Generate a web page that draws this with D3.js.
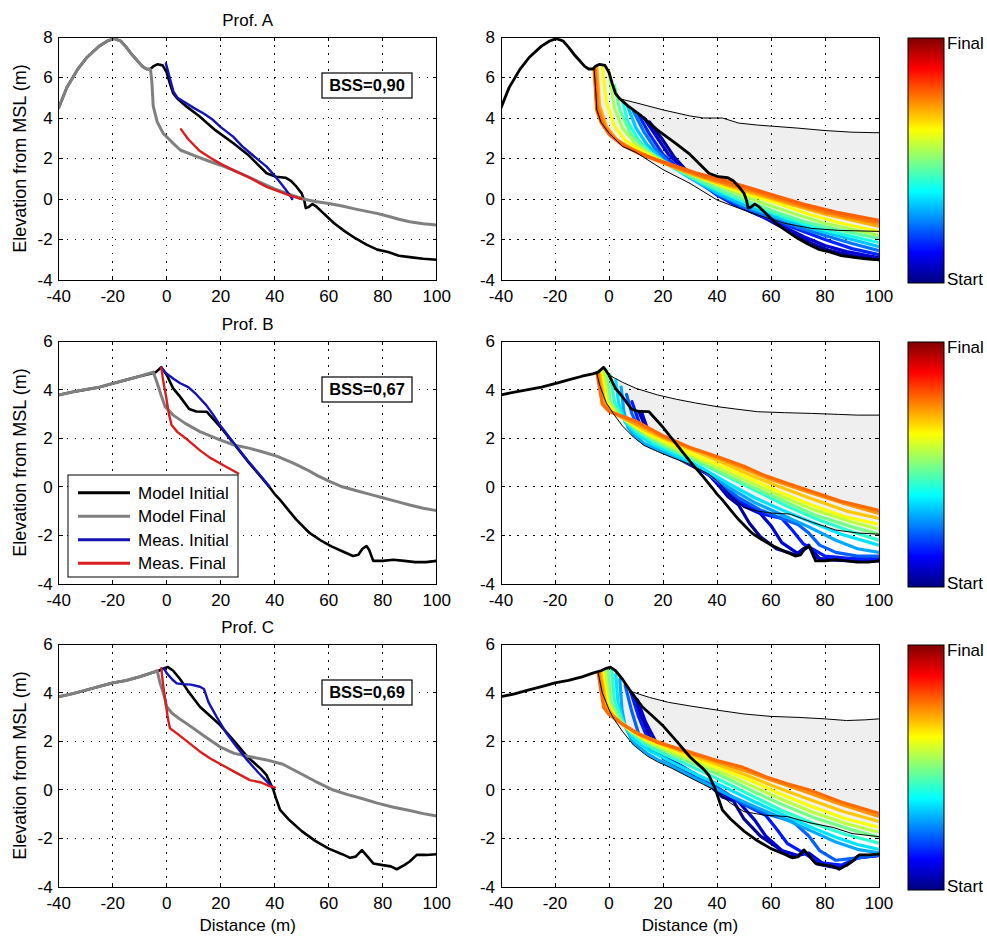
<!DOCTYPE html>
<html>
<head>
<meta charset="utf-8">
<script src="https://cdn.jsdelivr.net/npm/d3@7"></script>
<style>
  body { margin: 0; background: #fff; }
  svg { display: block; }
  text { font-family: Arial, "Liberation Sans", Helvetica, sans-serif; fill: #000; }
</style>
</head>
<body>
<svg id="fig" width="987" height="936"></svg>
<script>
// ---------- axes ----------
const xTicks = [-40, -20, 0, 20, 40, 60, 80, 100];
const yTicksA = [-4, -2, 0, 2, 4, 6, 8];
const yTicksBC = [-4, -2, 0, 2, 4, 6];
const profileTitles = ["Prof. A", "Prof. B", "Prof. C"];
const bssLabels = ["BSS=0,90", "BSS=0,67", "BSS=0,69"];
const legendLabels = ["Model Initial", "Model Final", "Meas. Initial", "Meas. Final"];
const colorbarLabels = ["Final", "Start"];

// ---------- profile A ----------
const modelInitialA = [[-40,4.5],[-37,5.5],[-33,6.4],[-29.5,7.0],[-25,7.55],[-22,7.8],[-19.5,7.92],[-17,7.8],[-15,7.5],[-13,7.15],[-11,6.85],[-9,6.55],[-7.5,6.42],[-6,6.42],[-5,6.55],[-3.5,6.65],[-1.5,6.6],[0,6.25],[1.2,5.7],[2.4,5.22],[4,4.95],[7,4.6],[12,4.1],[18,3.4],[24.7,2.75],[30,2.2],[37,1.27],[40.5,1.1],[44,1.05],[46,0.9],[48,0.62],[50,0.28],[51,-0.1],[51.5,-0.45],[52.5,-0.4],[54,-0.25],[55.5,-0.38],[58,-0.7],[62,-1.2],[66,-1.6],[70,-1.95],[74,-2.25],[78,-2.5],[82,-2.62],[86,-2.8],[90,-2.87],[95,-2.95],[100,-3.0]];
const modelFinalA = [[-40,4.5],[-37,5.5],[-33,6.4],[-29.5,7.0],[-25,7.55],[-22,7.8],[-19.5,7.92],[-17,7.8],[-15,7.5],[-13,7.15],[-11,6.85],[-9,6.55],[-7.5,6.42],[-6,6.4],[-5.5,5.8],[-5,4.6],[-3.5,3.8],[-1.3,3.24],[2,2.8],[5,2.42],[10,2.15],[15,1.9],[19.7,1.68],[25,1.4],[30,1.1],[35,0.8],[40,0.5],[45,0.25],[50.6,0.0],[55,-0.12],[60,-0.22],[65,-0.35],[70,-0.5],[77.8,-0.71],[82,-0.85],[86,-1.0],[90,-1.12],[95,-1.22],[100,-1.28]];
const measInitialA = [[-0.3,6.7],[0.5,6.3],[1.5,5.8],[2.5,5.3],[4,5.0],[7,4.75],[10,4.5],[14,4.2],[17.2,3.9],[20,3.55],[24.6,3.08],[28,2.6],[32,2.15],[37,1.6],[40,1.15],[43,0.65],[45,0.3],[46.5,0.0]];
const measFinalA = [[5.3,3.44],[8,2.95],[12,2.4],[16,2.05],[19.7,1.76],[25,1.4],[30,1.1],[37,0.6],[42,0.35],[46,0.15],[50,0.0]];
const envUpperA = [[4,4.95],[10,4.75],[20,4.4],[30,4.1],[35,4.0],[42,4.0],[48,3.75],[55,3.65],[60,3.6],[70,3.5],[80,3.38],[90,3.3],[100,3.27]];
const envLowerA = [[-5.5,6.4],[-5,5.5],[-4.5,4.4],[-3,3.8],[0,3.25],[5,2.6],[10,2.3],[20,1.45],[30,0.77],[40,-0.05],[50,-0.55],[57,-0.87],[65,-1.2],[75,-1.45],[85,-1.55],[100,-1.6]];
const stepLevelsA = [0.02, 0.08, 0.16, 0.24, 0.32, 0.4, 0.47, 0.54, 0.62, 0.7, 0.73, 0.76, 0.78];
const stepProfilesA = [
  [[15,3.8],[20,2.9],[24,2.1],[28,1.5],[34,0.9],[40,0.3],[46,-0.2],[52,-0.6],[58,-0.95],[64,-1.4],[70,-1.85],[76,-2.25],[82,-2.55],[90,-2.8],[100,-3.0]],
  [[13,4.0],[18,3.0],[22,2.2],[27,1.55],[33,0.95],[40,0.2],[46,-0.25],[52,-0.6],[60,-1.05],[66,-1.45],[72,-1.85],[80,-2.3],[88,-2.6],[100,-2.9]],
  [[11,4.15],[15,3.2],[20,2.2],[25,1.6],[32,0.95],[40,0.2],[48,-0.35],[56,-0.8],[64,-1.2],[72,-1.6],[80,-2.0],[90,-2.45],[100,-2.75]],
  [[9,4.35],[13,3.3],[17,2.5],[23,1.7],[30,1.05],[40,0.25],[50,-0.4],[60,-0.95],[70,-1.4],[80,-1.8],[90,-2.2],[100,-2.55]],
  [[7,4.55],[10,3.5],[14,2.7],[20,1.9],[28,1.2],[40,0.3],[50,-0.3],[60,-0.8],[70,-1.25],[80,-1.65],[90,-2.0],[100,-2.35]],
  [[5,4.85],[7,3.8],[11,2.9],[17,2.1],[25,1.45],[35,0.75],[45,0.15],[55,-0.4],[65,-0.9],[75,-1.35],[85,-1.7],[100,-2.15]],
  [[2,5.6],[4,4.4],[8,3.2],[14,2.4],[22,1.7],[32,1.0],[42,0.4],[52,-0.15],[62,-0.65],[72,-1.1],[84,-1.5],[100,-1.95]],
  [[0,6.3],[2,4.5],[5,3.5],[10,2.7],[18,2.0],[28,1.35],[38,0.8],[48,0.25],[58,-0.25],[68,-0.7],[80,-1.2],[100,-1.8]],
  [[-2.5,6.6],[-1,4.8],[2,3.6],[6,2.9],[13,2.3],[22,1.7],[32,1.15],[42,0.65],[52,0.2],[62,-0.2],[74,-0.75],[86,-1.2],[100,-1.6]],
  [[-4.5,6.5],[-3.5,4.6],[-1,3.6],[3,2.9],[9,2.45],[18,1.9],[28,1.35],[38,0.9],[48,0.5],[58,0.1],[68,-0.3],[80,-0.75],[90,-1.05],[100,-1.35]],
  [[-5,6.45],[-4,4.55],[-1.5,3.6],[2,3.0],[8,2.5],[16,2.0],[26,1.5],[36,1.05],[46,0.65],[56,0.25],[66,-0.15],[78,-0.6],[90,-0.95],[100,-1.25]],
  [[-5.2,6.4],[-4.3,4.5],[-2,3.6],[1,3.1],[6,2.6],[14,2.1],[24,1.6],[34,1.15],[44,0.75],[54,0.4],[64,0.0],[74,-0.4],[86,-0.8],[100,-1.15]],
  [[-5.5,6.4],[-4.6,4.4],[-3,3.8],[0,3.2],[5,2.65],[12,2.2],[22,1.75],[32,1.3],[42,0.95],[52,0.55],[62,0.15],[72,-0.25],[84,-0.65],[100,-1.05]]
];

// ---------- profile B ----------
const modelInitialB = [[-40,3.78],[-35,3.9],[-30,4.0],[-25,4.1],[-20,4.25],[-15,4.4],[-10,4.55],[-6,4.65],[-4,4.72],[-2,4.92],[0,4.6],[2.4,4.05],[5,3.7],[8.3,3.2],[11,3.1],[14.8,3.09],[20,2.45],[25,1.75],[30,1.05],[35,0.4],[38.3,-0.05],[40,-0.3],[42,-0.54],[45,-0.95],[48,-1.35],[53,-1.91],[57,-2.2],[61,-2.45],[65,-2.65],[69,-2.85],[71,-2.8],[72.5,-2.55],[74,-2.44],[75,-2.6],[76.5,-3.05],[80,-3.05],[84,-3.0],[88,-3.05],[92,-3.1],[96,-3.1],[100,-3.05]];
const modelFinalB = [[-40,3.78],[-35,3.9],[-30,4.0],[-25,4.1],[-20,4.25],[-15,4.4],[-10,4.55],[-5,4.72],[-3.7,4.33],[-2,3.75],[-0.6,3.3],[2.4,2.95],[7,2.6],[12.3,2.27],[19.7,1.93],[25,1.72],[30.8,1.58],[36,1.42],[41,1.25],[46.9,0.97],[52,0.7],[56,0.45],[60.5,0.21],[65,0.0],[70,-0.15],[75,-0.3],[80,-0.45],[85,-0.6],[90,-0.75],[95,-0.88],[100,-0.98]];
const measInitialB = [[-2,4.9],[0,4.65],[2.5,4.45],[5,4.26],[8,4.1],[11,3.8],[14.7,3.35],[17,3.0],[20,2.5],[25,1.78],[30,1.08],[35,0.42],[38,0.02]];
const measFinalB = [[-2,4.9],[-1.2,4.3],[-0.2,3.7],[0.8,3.0],[1.8,2.54],[4,2.25],[7,2.0],[12.3,1.5],[16,1.2],[20,0.95],[24,0.7],[26.5,0.55]];
const envUpperB = [[0,4.6],[5,4.3],[10,4.05],[18,3.78],[25,3.6],[32,3.45],[40,3.3],[47,3.2],[55,3.09],[65,3.05],[75,3.02],[85,2.98],[92,2.95],[100,2.95]];
const envLowerB = [[-4.6,4.7],[-3.5,4.2],[-1,3.45],[2,2.95],[5,2.5],[9,2.05],[13,1.7],[18,1.45],[23,1.22],[30,0.92],[37,0.52],[40,0.25],[45,-0.35],[50,-0.85],[55,-1.0],[60,-1.08],[67,-1.12],[75,-1.45],[84,-1.78],[92,-1.9],[100,-1.95]];
const stepLevelsB = [0.02, 0.08, 0.15, 0.22, 0.29, 0.35, 0.42, 0.49, 0.56, 0.62, 0.68, 0.73, 0.77];
const stepProfilesB = [
  [[11,3.1],[13,2.6],[16,2.0],[22,1.4],[30,0.9],[37,0.5],[41,0.0],[44,-0.4],[48,-0.75],[52,-1.5],[56,-2.05],[62,-2.55],[69,-2.8],[72,-2.55],[74,-2.4],[76,-2.9],[80,-3.0],[90,-3.05],[100,-3.05]],
  [[12,3.1],[14.5,2.3],[17,1.75],[24,1.3],[32,0.85],[38,0.4],[44,-0.3],[50,-0.8],[56,-1.1],[60,-1.6],[64,-2.3],[70,-2.75],[74,-2.45],[78,-2.95],[90,-3.0],[100,-3.0]],
  [[8.5,3.5],[11,2.7],[15,1.9],[22,1.4],[30,0.95],[38,0.45],[44,-0.2],[50,-0.7],[58,-1.15],[64,-1.3],[68,-1.8],[72,-2.35],[76,-2.6],[80,-2.85],[90,-2.95],[100,-2.95]],
  [[6.5,3.8],[8.5,3.0],[12,2.2],[18,1.6],[26,1.15],[34,0.75],[40,0.25],[48,-0.45],[56,-0.95],[64,-1.3],[70,-1.55],[74,-1.9],[78,-2.4],[84,-2.7],[92,-2.85],[100,-2.85]],
  [[4.5,4.1],[5.5,3.1],[7,2.45],[9,2.15],[13,1.78],[18,1.52],[23,1.3],[30,0.98],[37,0.58],[44,0.0],[54,-0.65],[64,-1.15],[74,-1.65],[84,-2.2],[92,-2.55],[100,-2.7]],
  [[2.5,4.4],[3.5,3.5],[6,2.65],[10,2.2],[16,1.75],[24,1.35],[34,0.8],[44,0.15],[54,-0.45],[64,-0.95],[76,-1.5],[86,-1.95],[100,-2.4]],
  [[0.5,4.6],[2,3.5],[5,2.85],[10,2.3],[17,1.8],[26,1.35],[36,0.85],[46,0.3],[56,-0.25],[66,-0.8],[78,-1.38],[90,-1.85],[100,-2.2]],
  [[-1,4.8],[0.5,3.5],[4,2.95],[9,2.45],[16,1.95],[25,1.45],[35,0.95],[45,0.4],[55,-0.1],[65,-0.6],[76,-1.15],[90,-1.65],[100,-1.95]],
  [[-2,4.8],[-0.5,3.55],[3,3.0],[8,2.6],[15,2.1],[24,1.6],[34,1.1],[44,0.6],[54,0.1],[64,-0.4],[76,-0.95],[90,-1.45],[100,-1.75]],
  [[-3,4.75],[-1,3.5],[2,3.05],[7,2.7],[14,2.2],[23,1.75],[33,1.25],[43,0.8],[53,0.3],[63,-0.2],[75,-0.75],[88,-1.25],[100,-1.55]],
  [[-3.5,4.7],[-1.5,3.45],[1,3.1],[6,2.8],[13,2.35],[22,1.9],[32,1.45],[42,1.0],[52,0.5],[62,0.05],[74,-0.45],[88,-1.0],[100,-1.3]],
  [[-4,4.7],[-2,3.45],[0.5,3.1],[5,2.85],[12,2.5],[20,2.05],[30,1.6],[40,1.2],[50,0.75],[60,0.3],[72,-0.15],[86,-0.65],[100,-1.1]],
  [[-4.5,4.7],[-2.5,3.4],[0,3.1],[5,2.9],[10,2.7],[20,2.1],[30,1.62],[40,1.25],[50,0.85],[58,0.45],[66,0.15],[74,-0.15],[86,-0.6],[100,-0.97]]
];

// ---------- profile C ----------
const modelInitialC = [[-40,3.83],[-35,3.95],[-30,4.1],[-25,4.25],[-20,4.4],[-15,4.5],[-10,4.65],[-6,4.8],[-3,4.9],[-1,5.0],[0.5,5.05],[2.4,4.9],[5,4.55],[8,4.05],[12.3,3.42],[16,3.05],[19.7,2.67],[25,2.0],[30,1.35],[35,0.85],[37,0.6],[39.5,0.0],[40.5,-0.35],[42,-0.83],[45,-1.2],[50,-1.7],[55,-2.1],[60,-2.42],[65,-2.65],[67.9,-2.8],[70,-2.75],[72.3,-2.48],[74,-2.7],[76.5,-3.03],[80,-3.1],[83,-3.15],[85.2,-3.27],[88,-3.1],[90,-2.95],[92.6,-2.68],[96,-2.68],[100,-2.65]];
const modelFinalC = [[-40,3.83],[-35,3.95],[-30,4.1],[-25,4.25],[-20,4.4],[-15,4.5],[-10,4.65],[-6,4.8],[-3.5,4.9],[-2.5,4.4],[-1,3.9],[0,3.42],[2,3.15],[5,2.9],[9,2.6],[14,2.2],[19.7,1.77],[25,1.5],[30,1.38],[37,1.23],[43,1.05],[49.4,0.68],[55,0.35],[61.7,-0.01],[67,-0.2],[72,-0.35],[78,-0.55],[84,-0.72],[90,-0.85],[95,-0.98],[100,-1.08]];
const measInitialC = [[-1,5.0],[0,4.8],[2,4.55],[3.7,4.38],[6,4.35],[9,4.33],[12.3,4.24],[13.8,4.15],[15.5,3.6],[18.5,3.0],[22,2.35],[26,1.75],[30,1.2],[34,0.7],[38.3,0.2],[39,0.1]];
const measFinalC = [[-2,5.0],[-1.3,4.3],[-0.3,3.5],[0.5,2.9],[1.2,2.53],[4,2.3],[8,1.95],[12,1.6],[16,1.3],[20,1.05],[25,0.75],[30.8,0.4],[35,0.3],[38,0.15],[40,0.1]];
const envUpperC = [[8,4.05],[15,3.8],[22,3.6],[30,3.45],[40,3.28],[50,3.12],[60,3.02],[70,2.98],[80,2.92],[88,2.85],[95,2.88],[100,2.92]];
const envLowerC = [[-4,4.8],[-2.5,4.0],[0,3.3],[1.6,2.95],[5,2.4],[9,1.85],[14,1.4],[18,1.15],[23,0.9],[30,0.5],[35,0.22],[39,0.0],[45,-0.55],[50,-0.9],[58,-1.05],[66,-1.1],[74,-1.35],[83,-1.55],[90,-1.8],[100,-1.93]];
const stepLevelsC = [0.02, 0.08, 0.15, 0.22, 0.29, 0.35, 0.42, 0.49, 0.56, 0.62, 0.68, 0.73, 0.77];
const stepProfilesC = [
  [[9,3.9],[12,3.0],[15,2.2],[20,1.3],[26,0.95],[32,0.55],[38,0.1],[42,-0.3],[46,-0.45],[50,-1.2],[56,-1.9],[62,-2.35],[67,-2.75],[70,-2.75],[72,-2.5],[74,-2.7],[77,-3.05],[84,-3.2],[88,-3.1],[92,-2.75],[100,-2.7]],
  [[10.5,3.7],[13.5,2.8],[17,2.05],[22,1.3],[28,0.9],[36,0.35],[42,-0.15],[48,-0.5],[54,-1.25],[58,-1.9],[64,-2.5],[70,-2.7],[74,-2.6],[80,-3.1],[86,-3.2],[92,-2.8],[100,-2.7]],
  [[8,4.05],[11,3.0],[14,2.2],[19,1.4],[26,1.0],[34,0.5],[42,-0.05],[50,-0.6],[58,-1.05],[62,-1.6],[66,-2.2],[72,-2.6],[78,-3.0],[86,-3.1],[92,-2.8],[100,-2.7]],
  [[6,4.3],[8.5,3.2],[11,2.3],[16,1.6],[24,1.1],[32,0.65],[40,0.1],[50,-0.6],[60,-1.05],[68,-1.3],[74,-1.9],[78,-2.5],[84,-2.9],[92,-2.8],[100,-2.68]],
  [[4,4.55],[4.8,3.3],[6,2.6],[9,1.95],[14,1.5],[18,1.24],[23,0.98],[30,0.58],[36,0.25],[44,-0.2],[54,-0.7],[64,-1.15],[74,-1.65],[84,-2.15],[92,-2.45],[100,-2.6]],
  [[2.5,4.75],[3.3,3.6],[5.5,2.7],[9,2.1],[15,1.6],[23,1.15],[33,0.6],[44,0.05],[54,-0.5],[64,-1.0],[74,-1.5],[84,-1.95],[92,-2.25],[100,-2.45]],
  [[1,4.95],[2,3.7],[5,2.8],[9,2.25],[16,1.7],[24,1.28],[34,0.78],[44,0.25],[54,-0.3],[64,-0.85],[76,-1.4],[88,-1.85],[100,-2.2]],
  [[-0.5,5.0],[0.8,3.6],[4,2.9],[8,2.4],[15,1.88],[24,1.42],[34,0.95],[44,0.45],[54,-0.1],[64,-0.6],[76,-1.15],[90,-1.65],[100,-1.95]],
  [[-1.5,4.95],[0,3.6],[3,2.95],[7,2.5],[14,2.0],[23,1.55],[33,1.1],[43,0.65],[53,0.15],[63,-0.35],[75,-0.9],[88,-1.4],[100,-1.75]],
  [[-2.5,4.9],[-0.5,3.55],[2,3.0],[6,2.6],[13,2.1],[22,1.7],[32,1.25],[42,0.85],[52,0.4],[62,-0.1],[74,-0.65],[88,-1.2],[100,-1.55]],
  [[-3,4.85],[-1,3.5],[1.5,3.05],[5,2.7],[12,2.2],[21,1.8],[31,1.4],[41,1.0],[51,0.6],[61,0.15],[73,-0.35],[87,-0.9],[100,-1.3]],
  [[-3.5,4.85],[-1.5,3.45],[1,3.1],[5,2.7],[11,2.3],[20,1.9],[30,1.5],[40,1.15],[50,0.8],[60,0.4],[72,-0.05],[86,-0.6],[100,-1.1]],
  [[-4,4.8],[-2,3.4],[0,3.1],[5,2.7],[10,2.35],[18,1.95],[30,1.55],[40,1.2],[49,0.95],[58,0.54],[66,0.25],[74,0.0],[86,-0.5],[100,-0.97]]
];

// ---------- colormap (jet) ----------
const clamp01 = v => Math.max(0, Math.min(1, v));
function jet(t) {
  const r = clamp01(Math.min(4 * t - 1.5, -4 * t + 4.5));
  const g = clamp01(Math.min(4 * t - 0.5, -4 * t + 3.5));
  const b = clamp01(Math.min(4 * t + 0.5, -4 * t + 2.5));
  return d3.rgb(r * 255, g * 255, b * 255).toString();
}
const timeColor = d3.scaleSequential(jet).domain([0, 1]);

// ---------- layout ----------
const rows = [
  { title: profileTitles[0], bss: bssLabels[0], yDomain: [-4, 8], yTicks: yTicksA, top: 37, bottom: 280,
    init: modelInitialA, fin: modelFinalA, mInit: measInitialA, mFin: measFinalA,
    up: envUpperA, low: envLowerA, levels: stepLevelsA, steps: stepProfilesA },
  { title: profileTitles[1], bss: bssLabels[1], yDomain: [-4, 6], yTicks: yTicksBC, top: 341, bottom: 584,
    init: modelInitialB, fin: modelFinalB, mInit: measInitialB, mFin: measFinalB,
    up: envUpperB, low: envLowerB, levels: stepLevelsB, steps: stepProfilesB, legend: true },
  { title: profileTitles[2], bss: bssLabels[2], yDomain: [-4, 6], yTicks: yTicksBC, top: 644, bottom: 887,
    init: modelInitialC, fin: modelFinalC, mInit: measInitialC, mFin: measFinalC,
    up: envUpperC, low: envLowerC, levels: stepLevelsC, steps: stepProfilesC, xLabel: true }
];
const leftRange = [58.7, 436.7];
const rightRange = [501, 879];
const cbX = 908, cbW = 36;
const FS = 17;

const svg = d3.select("#fig");
svg.append("rect").attr("width", 987).attr("height", 936).attr("fill", "#fff");

const defs = svg.append("defs");
const grad = defs.append("linearGradient").attr("id", "jetGrad")
  .attr("x1", 0).attr("y1", 1).attr("x2", 0).attr("y2", 0);
d3.range(0, 1.0001, 0.0625).forEach(t => {
  grad.append("stop").attr("offset", t).attr("stop-color", timeColor(t));
});

function frame(g, x, y, yTicks, top, bottom) {
  const L = x.range()[0], R = x.range()[1];
  // dotted grid
  const grid = g.append("g").attr("stroke", "#000").attr("stroke-width", 1)
    .attr("stroke-dasharray", "1.5,6.5").attr("shape-rendering", "crispEdges");
  xTicks.forEach(v => grid.append("line").attr("x1", x(v)).attr("x2", x(v)).attr("y1", top).attr("y2", bottom));
  yTicks.forEach(v => grid.append("line").attr("x1", L).attr("x2", R).attr("y1", y(v)).attr("y2", y(v)));
}

function boxAndTicks(g, x, y, yTicks, top, bottom) {
  const L = x.range()[0], R = x.range()[1];
  const tl = 4;
  const tk = g.append("g").attr("stroke", "#000").attr("stroke-width", 1).attr("shape-rendering", "crispEdges");
  xTicks.forEach(v => {
    tk.append("line").attr("x1", x(v)).attr("x2", x(v)).attr("y1", bottom).attr("y2", bottom - tl);
    tk.append("line").attr("x1", x(v)).attr("x2", x(v)).attr("y1", top).attr("y2", top + tl);
  });
  yTicks.forEach(v => {
    tk.append("line").attr("x1", L).attr("x2", L + tl).attr("y1", y(v)).attr("y2", y(v));
    tk.append("line").attr("x1", R).attr("x2", R - tl).attr("y1", y(v)).attr("y2", y(v));
  });
  g.append("rect").attr("x", L).attr("y", top).attr("width", R - L).attr("height", bottom - top)
    .attr("fill", "none").attr("stroke", "#000").attr("stroke-width", 1).attr("shape-rendering", "crispEdges");
  // tick labels
  const xl = g.append("g").attr("font-size", FS).attr("text-anchor", "middle");
  xTicks.forEach(v => xl.append("text").attr("x", x(v)).attr("y", bottom + 22).text(String(v)));
  const yl = g.append("g").attr("font-size", FS).attr("text-anchor", "end");
  yTicks.forEach(v => yl.append("text").attr("x", L - 6).attr("y", y(v)).attr("dy", "0.35em").text(String(v)));
}

rows.forEach((row, i) => {
  const y = d3.scaleLinear().domain(row.yDomain).range([row.bottom, row.top]);
  const xL = d3.scaleLinear().domain([-40, 100]).range(leftRange);
  const xR = d3.scaleLinear().domain([-40, 100]).range(rightRange);

  ["L", "R"].forEach(side => {
    const x = side === "L" ? xL : xR;
    defs.append("clipPath").attr("id", `clip${i}${side}`).append("rect")
      .attr("x", x.range()[0]).attr("y", row.top)
      .attr("width", x.range()[1] - x.range()[0]).attr("height", row.bottom - row.top);
  });

  const lineL = d3.line().x(d => xL(d[0])).y(d => y(d[1]));
  const lineR = d3.line().x(d => xR(d[0])).y(d => y(d[1]));

  // ---- left panel: model vs. measured ----
  const gL = svg.append("g");
  frame(gL, xL, y, row.yTicks, row.top, row.bottom);
  const dL = gL.append("g").attr("clip-path", `url(#clip${i}L)`)
    .attr("fill", "none").attr("stroke-linejoin", "round").attr("stroke-linecap", "round");
  dL.append("path").attr("d", lineL(row.init)).attr("stroke", "#000").attr("stroke-width", 2.6);
  dL.append("path").attr("d", lineL(row.fin)).attr("stroke", "#808080").attr("stroke-width", 3);
  dL.append("path").attr("d", lineL(row.mInit)).attr("stroke", "#1414b4").attr("stroke-width", 2.4);
  dL.append("path").attr("d", lineL(row.mFin)).attr("stroke", "#d81e1e").attr("stroke-width", 2.4);
  boxAndTicks(gL, xL, y, row.yTicks, row.top, row.bottom);

  gL.append("text").attr("x", (leftRange[0] + leftRange[1]) / 2).attr("y", row.top - 11)
    .attr("text-anchor", "middle").attr("font-size", FS).text(row.title);
  gL.append("text").attr("transform", `translate(20,${(row.top + row.bottom) / 2}) rotate(-90)`)
    .attr("text-anchor", "middle").attr("dy", "0.35em").attr("font-size", 18).text("Elevation from MSL (m)");

  // BSS score box
  const bx = 322, by = row.top + 36, bw = 90, bh = 25;
  gL.append("rect").attr("x", bx).attr("y", by).attr("width", bw).attr("height", bh)
    .attr("fill", "#fff").attr("stroke", "#000").attr("stroke-width", 1.2);
  gL.append("text").attr("x", bx + bw / 2).attr("y", by + bh / 2).attr("dy", "0.36em")
    .attr("text-anchor", "middle").attr("font-size", 16.5).attr("font-weight", "bold").text(row.bss);

  if (row.legend) {
    const lx = 68, ly = 475, lw = 170, lh = 102;
    const lg = gL.append("g");
    lg.append("rect").attr("x", lx).attr("y", ly).attr("width", lw).attr("height", lh)
      .attr("fill", "#fff").attr("stroke", "#000").attr("stroke-width", 1);
    const legendColors = ["#000", "#808080", "#1414b4", "#d81e1e"];
    legendLabels.forEach((lab, k) => {
      const cy = ly + 17.7 + k * 23.5;
      lg.append("line").attr("x1", 78).attr("x2", 130).attr("y1", cy).attr("y2", cy)
        .attr("stroke", legendColors[k]).attr("stroke-width", 3);
      lg.append("text").attr("x", 138).attr("y", cy).attr("dy", "0.36em").attr("font-size", FS).text(lab);
    });
  }

  // ---- right panel: profile evolution ----
  const gR = svg.append("g");
  const cap = row.init.filter(p => p[0] > row.low[0][0] && p[0] < row.up[0][0]);
  const zone = [...row.up, ...row.low.slice().reverse(), ...cap];
  gR.append("path").attr("clip-path", `url(#clip${i}R)`)
    .attr("d", lineR(zone) + "Z").attr("fill", "#efefef").attr("stroke", "none");
  frame(gR, xR, y, row.yTicks, row.top, row.bottom);
  const dR = gR.append("g").attr("clip-path", `url(#clip${i}R)`)
    .attr("fill", "none").attr("stroke-linejoin", "round").attr("stroke-linecap", "round");
  row.steps.forEach((pts, k) => {
    dR.append("path").attr("d", lineR(pts)).attr("stroke", timeColor(row.levels[k])).attr("stroke-width", 3.2);
  });
  dR.append("path").attr("d", lineR(row.up)).attr("stroke", "#000").attr("stroke-width", 1);
  dR.append("path").attr("d", lineR(row.low)).attr("stroke", "#000").attr("stroke-width", 1);
  dR.append("path").attr("d", lineR(row.init)).attr("stroke", "#000").attr("stroke-width", 2.8);
  boxAndTicks(gR, xR, y, row.yTicks, row.top, row.bottom);

  // colorbar
  const cbTop = row.top + 1, cbBot = row.bottom + 3;
  gR.append("rect").attr("x", cbX).attr("y", cbTop).attr("width", cbW).attr("height", cbBot - cbTop)
    .attr("fill", "url(#jetGrad)").attr("stroke", "#000").attr("stroke-width", 1);
  gR.append("text").attr("x", cbX + cbW + 3).attr("y", cbTop + 5).attr("dy", "0.36em")
    .attr("font-size", FS).text(colorbarLabels[0]);
  gR.append("text").attr("x", cbX + cbW + 3).attr("y", cbBot - 4).attr("dy", "0.36em")
    .attr("font-size", FS).text(colorbarLabels[1]);

  if (row.xLabel) {
    svg.append("text").attr("x", (leftRange[0] + leftRange[1]) / 2).attr("y", 931)
      .attr("text-anchor", "middle").attr("font-size", FS).text("Distance (m)");
    svg.append("text").attr("x", (rightRange[0] + rightRange[1]) / 2).attr("y", 931)
      .attr("text-anchor", "middle").attr("font-size", FS).text("Distance (m)");
  }
});
</script>
</body>
</html>
